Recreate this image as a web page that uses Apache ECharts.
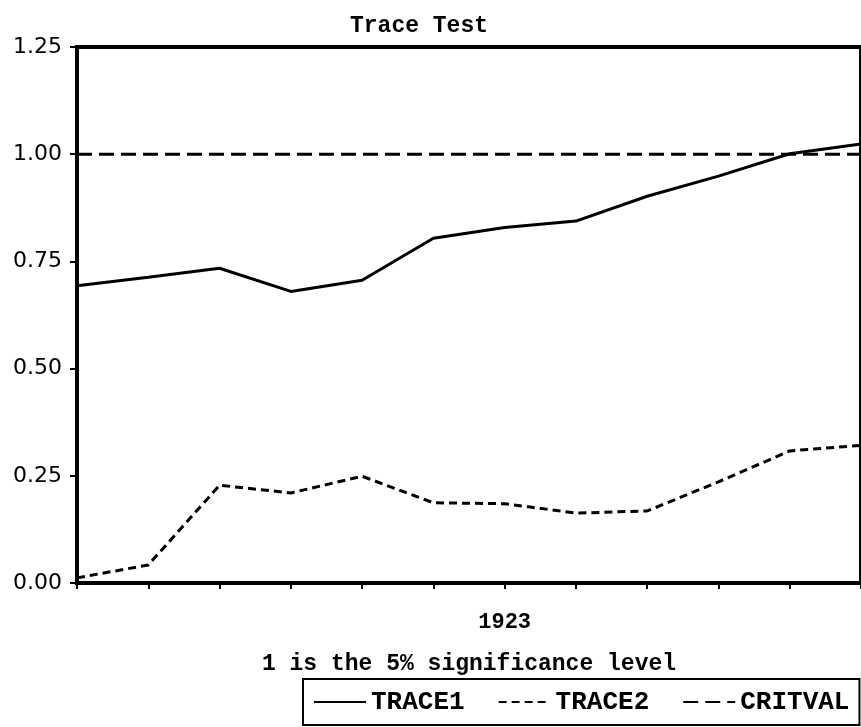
<!DOCTYPE html>
<html>
<head>
<meta charset="utf-8">
<script src="https://cdn.jsdelivr.net/npm/echarts@6/dist/echarts.min.js"></script>
<style>
  html, body { margin: 0; padding: 0; background: #fff; }
  #chart { width: 861px; height: 727px; }
</style>
</head>
<body>
<div id="chart"></div>
<script>
const years = ["1917", "1918", "1919", "1920", "1921", "1922", "1923", "1924", "1925", "1926", "1927", "1928"];
const trace1 = [0.693, 0.713, 0.734, 0.680, 0.706, 0.804, 0.829, 0.844, 0.902, 0.949, 1.001, 1.024];
const trace2 = [0.012, 0.042, 0.228, 0.210, 0.249, 0.187, 0.185, 0.163, 0.168, 0.236, 0.308, 0.321];
const critval = [1, 1, 1, 1, 1, 1, 1, 1, 1, 1, 1, 1];

const monoFont = "'Liberation Mono', 'DejaVu Sans Mono', monospace";

const chart = echarts.init(document.getElementById("chart"));
chart.setOption({
  backgroundColor: "#fff",
  animation: false,
  title: {
    text: "Trace Test",
    left: 345,
    top: 10,
    textStyle: { fontFamily: monoFont, fontWeight: "bold", fontSize: 23, color: "#000" },
  },
  grid: {
    left: 77,
    right: -2,
    top: 47,
    bottom: 144,
    show: true,
    borderColor: "#000",
    borderWidth: 4,
    containLabel: false,
  },
  legend: {
    left: 303,
    top: 679,
    padding: [10, 10, 10, 10],
    itemGap: 33,
    itemWidth: 52,
    itemHeight: 14,
    borderColor: "#000",
    borderWidth: 2,
    itemStyle: { opacity: 0 },
    textStyle: { fontFamily: monoFont, fontWeight: "bold", fontSize: 26, color: "#000" },
    data: ["TRACE1", "TRACE2", "CRITVAL"],
  },
  xAxis: {
    type: "category",
    data: years,
    boundaryGap: false,
    name: "1 is the 5% significance level",
    nameLocation: "middle",
    nameGap: 70,
    nameTextStyle: { fontFamily: monoFont, fontWeight: "bold", fontSize: 23, color: "#000" },
    axisLine: { lineStyle: { color: "#000", width: 4 } },
    axisTick: { interval: 0, length: 6, lineStyle: { color: "#000", width: 2 } },
    axisLabel: {
      interval: (i, v) => v === "1923",
      margin: 28,
      fontFamily: monoFont,
      fontWeight: "bold",
      fontSize: 22,
      color: "#000",
    },
    splitLine: { show: false },
  },
  yAxis: {
    type: "value",
    min: 0,
    max: 1.25,
    interval: 0.25,
    axisLine: { show: true, lineStyle: { color: "#000", width: 4 } },
    axisTick: { show: true, length: 7, lineStyle: { color: "#000", width: 2 } },
    axisLabel: {
      margin: 15,
      fontFamily: "'DejaVu Sans', sans-serif",
      fontSize: 22,
      color: "#000",
      formatter: (v) => v.toFixed(2),
    },
    splitLine: { show: false },
  },
  series: [
    {
      name: "TRACE1",
      type: "line",
      data: trace1,
      symbol: "none",
      lineStyle: { color: "#000", width: 3, type: "solid" },
      itemStyle: { color: "#000" },
    },
    {
      name: "TRACE2",
      type: "line",
      data: trace2,
      symbol: "none",
      lineStyle: { color: "#000", width: 3, type: [8, 5] },
      itemStyle: { color: "#000" },
    },
    {
      name: "CRITVAL",
      type: "line",
      data: critval,
      symbol: "none",
      lineStyle: { color: "#000", width: 3, type: [15, 7] },
      itemStyle: { color: "#000" },
    },
  ],
});
</script>
</body>
</html>
